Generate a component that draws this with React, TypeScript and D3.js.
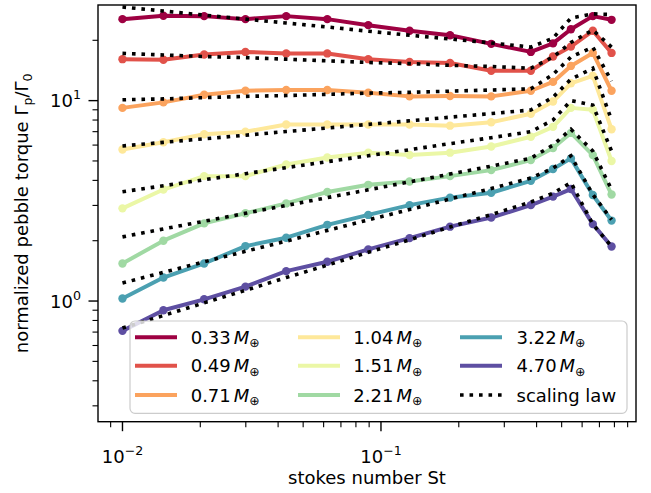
import React from "react";
import * as d3 from "d3";

// Stokes numbers of the simulations
const stokesNumbers = [0.01, 0.0144, 0.0207, 0.0299, 0.043, 0.062, 0.0893, 0.129, 0.185, 0.267, 0.38, 0.463, 0.543, 0.66, 0.78];

// planet masses (Earth masses)
const massLabels = ["0.33", "0.49", "0.71", "1.04", "1.51", "2.21", "3.22", "4.70"];

// measured normalized pebble torque
const torque033 = [25.5, 26.5, 26.4, 25.5, 26.4, 25.5, 23.8, 22.3, 21.2, 19.2, 17.5, 19.3, 22.7, 26.4, 25.3];
const torque049 = [16.1, 16.0, 17.0, 17.5, 17.2, 17.2, 16.1, 15.6, 15.4, 14.1, 14.1, 16.6, 18.6, 22.3, 17.3];
const torque071 = [9.2, 9.8, 10.7, 11.2, 11.3, 11.3, 10.95, 10.5, 10.55, 10.5, 11.2, 12.4, 14.9, 17.3, 11.2];
const torque104 = [5.7, 6.2, 6.8, 7.0, 7.6, 7.6, 7.6, 7.6, 7.5, 7.8, 8.6, 9.9, 12.2, 13.3, 7.2];
const torque151 = [2.9, 3.6, 4.2, 4.2, 4.8, 5.2, 5.5, 5.35, 5.5, 5.9, 6.6, 7.4, 9.2, 9.0, 5.0];
const torque221 = [1.54, 2.0, 2.44, 2.74, 3.07, 3.5, 3.8, 3.95, 4.2, 4.5, 5.05, 5.8, 6.9, 5.35, 3.4];
const torque322 = [1.03, 1.31, 1.54, 1.88, 2.07, 2.4, 2.69, 3.01, 3.28, 3.47, 3.98, 4.56, 5.15, 3.38, 2.52];
const torque470 = [0.71, 0.9, 1.02, 1.18, 1.41, 1.57, 1.81, 2.06, 2.35, 2.61, 3.01, 3.32, 3.62, 2.42, 1.87];

// scaling law predictions
const scaling033 = [29.3, 28.0, 26.7, 25.5, 24.4, 23.3, 22.2, 21.2, 20.3, 19.4, 18.5, 20.5, 25.8, 27.1, 26.9];
const scaling049 = [17.2, 16.9, 16.6, 16.4, 16.1, 15.8, 15.5, 15.3, 15.0, 14.8, 14.5, 16.5, 19.5, 22.5, 18.5];
const scaling071 = [10.1, 10.2, 10.35, 10.5, 10.6, 10.75, 10.9, 11.0, 11.15, 11.3, 11.45, 13.5, 16.5, 18.5, 12.5];
const scaling104 = [5.94, 6.19, 6.45, 6.72, 7.01, 7.3, 7.61, 7.93, 8.27, 8.62, 8.98, 10.4, 12.8, 14.5, 8.0];
const scaling151 = [3.51, 3.76, 4.03, 4.32, 4.63, 4.96, 5.31, 5.69, 6.1, 6.53, 7.0, 8.0, 10.0, 9.5, 5.6];
const scaling221 = [2.09, 2.29, 2.5, 2.74, 3.0, 3.28, 3.59, 3.93, 4.3, 4.71, 5.16, 6.0, 7.2, 5.6, 3.6];
const scaling322 = [1.23, 1.39, 1.57, 1.77, 1.99, 2.25, 2.54, 2.86, 3.23, 3.64, 4.11, 4.6, 5.3, 3.4, 2.55];
const scaling470 = [0.733, 0.847, 0.979, 1.13, 1.31, 1.51, 1.75, 2.02, 2.34, 2.7, 3.12, 3.45, 3.9, 2.42, 1.87];

const torqueSeries = [torque033, torque049, torque071, torque104, torque151, torque221, torque322, torque470];
const scalingSeries = [scaling033, scaling049, scaling071, scaling104, scaling151, scaling221, scaling322, scaling470];

const xTickLabels = [{ v: 0.01, exp: "\u22122" }, { v: 0.1, exp: "\u22121" }];
const yTickLabels = [{ v: 1, exp: "0" }, { v: 10, exp: "1" }];

const FONT = "'DejaVu Sans', sans-serif";
const FS = 18;

export default function App() {
  const L = 98, R = 636, T = 5, B = 421.7;
  const x = d3.scaleLog().domain([0.008041, 0.9696]).range([L, R]);
  const y = d3.scaleLog().domain([0.25, 30]).range([B, T]);
  const line = d3.line<number>().x((_, i) => x(stokesNumbers[i])).y((d) => y(d));
  const color = (i: number) => d3.interpolateSpectral(i / (massLabels.length - 1));
  const isMajor = (v: number) => Math.abs(Math.log10(v) - Math.round(Math.log10(v))) < 1e-6;
  const xt = x.ticks().filter((v) => x(v) >= L - 0.5 && x(v) <= R + 0.5);
  const yt = y.ticks().filter((v) => y(v) <= B + 0.5 && y(v) > T + 1);

  const dash = "3.6 5.9";
  const lw = 4;

  const legendItems = [
    ...massLabels.map((m, i) => ({ label: m, color: color(i), dotted: false })),
    { label: "scaling law", color: "#000", dotted: true },
  ];
  const handleX = [135, 298, 460];
  const textX = [190.7, 353.3, 516.5];
  const rowY = [337.3, 365.7, 395];

  return (
    <svg width={651} height={493} style={{ position: "absolute", left: 0, top: 0, background: "#fff" }} fontFamily={FONT}>
      <defs>
        <clipPath id="plotclip">
          <rect x={L} y={T} width={R - L} height={B - T} />
        </clipPath>
      </defs>
      <rect x={0} y={0} width={651} height={493} fill="#fff" />
      <g clipPath="url(#plotclip)">
        {torqueSeries.map((s, i) => (
          <g key={i}>
            <path d={line(s) || ""} fill="none" stroke={color(i)} strokeWidth={lw} strokeLinejoin="round" />
            {s.map((v, j) => (
              <circle key={j} cx={x(stokesNumbers[j])} cy={y(v)} r={4.2} fill={color(i)} />
            ))}
            <path d={line(scalingSeries[i]) || ""} fill="none" stroke="#000" strokeWidth={3.6} strokeDasharray={dash} />
          </g>
        ))}
      </g>
      {/* x ticks */}
      {xt.map((v, i) => (
        <line key={"xt" + i} x1={x(v)} x2={x(v)} y1={B} y2={B + (isMajor(v) ? 9.5 : 5.5)} stroke="#000" strokeWidth={isMajor(v) ? 1.4 : 1.1} />
      ))}
      {yt.map((v, i) => (
        <line key={"yt" + i} x1={L} x2={L - (isMajor(v) ? 9.5 : 5.5)} y1={y(v)} y2={y(v)} stroke="#000" strokeWidth={isMajor(v) ? 1.4 : 1.1} />
      ))}
      {xTickLabels.map((t, i) => (
        <text key={"xl" + i} x={x(t.v)} y={463} fontSize={FS} textAnchor="middle" fill="#000">
          10<tspan fontSize={12.6} dy={-8}>{t.exp}</tspan>
        </text>
      ))}
      {yTickLabels.map((t, i) => (
        <text key={"yl" + i} x={81} y={y(t.v) + 6.5} fontSize={FS} textAnchor="end" fill="#000">
          10<tspan fontSize={12.6} dy={-8}>{t.exp}</tspan>
        </text>
      ))}
      <text x={(L + R) / 2} y={484} fontSize={FS} textAnchor="middle" fill="#000">stokes number St</text>
      <text transform={`translate(28,${(T + B) / 2}) rotate(-90)`} fontSize={FS} textAnchor="middle" fill="#000">
        normalized pebble torque Γ<tspan fontSize={12.6} dy={4}>p</tspan><tspan dy={-4}>/Γ</tspan><tspan fontSize={12.6} dy={4}>0</tspan>
      </text>
      {/* spines */}
      <rect x={L} y={T} width={R - L} height={B - T} fill="none" stroke="#000" strokeWidth={1.4} />
      {/* legend */}
      <rect x={130} y={321} width={497} height={92.3} rx={5} ry={5} fill="#fff" fillOpacity={0.8} stroke="#cccccc" strokeWidth={1.2} />
      {legendItems.map((it, k) => {
        const col = Math.floor(k / 3);
        const row = k % 3;
        const cy = rowY[row];
        return (
          <g key={"lg" + k}>
            <line x1={handleX[col]} x2={handleX[col] + 42} y1={cy} y2={cy} stroke={it.color} strokeWidth={it.dotted ? 3.6 : lw} strokeDasharray={it.dotted ? dash : undefined} />
            {it.dotted ? (
              <text x={textX[col]} y={cy + 6.5} fontSize={FS} fill="#000">{it.label}</text>
            ) : (
              <text x={textX[col]} y={cy + 6.5} fontSize={FS} fill="#000">
                {it.label}
                <tspan dx={3} fontStyle="italic">M</tspan>
                <tspan fontSize={12.6} dy={3.5}>⊕</tspan>
              </text>
            )}
          </g>
        );
      })}
    </svg>
  );
}
